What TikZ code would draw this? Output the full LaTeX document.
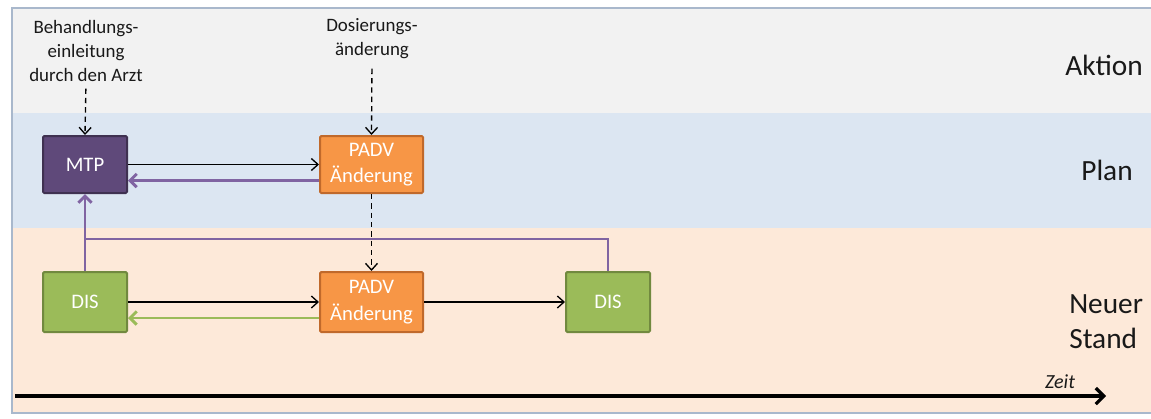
\documentclass[tikz,border=0pt]{standalone}
\usepackage{fontspec}
\setmainfont{Carlito}
\usetikzlibrary{arrows.meta}
\definecolor{aktbg}{HTML}{F2F2F2}
\definecolor{planbg}{HTML}{DCE6F2}
\definecolor{standbg}{HTML}{FDE9D9}
\definecolor{framec}{HTML}{A9B8CC}
\definecolor{mtpfill}{HTML}{5F497A}
\definecolor{mtpdraw}{HTML}{3F3151}
\definecolor{orfill}{HTML}{F79646}
\definecolor{ordraw}{HTML}{C0692B}
\definecolor{grfill}{HTML}{9BBB59}
\definecolor{grdraw}{HTML}{71893F}
\definecolor{purpl}{HTML}{8064A2}
\definecolor{greenl}{HTML}{9BBB59}
\tikzset{
  box/.style={draw, line width=1.5pt, rounded corners=1pt, text=white, align=center,
    font=\fontsize{15.5}{20}\selectfont, inner sep=0pt},
  mtpbox/.style={box, fill=mtpfill, draw=mtpdraw, minimum width=63pt, minimum height=42.75pt},
  padvt/.style={box, fill=orfill, draw=ordraw, minimum width=77.25pt, minimum height=42.75pt},
  padvb/.style={box, fill=orfill, draw=ordraw, minimum width=77.25pt, minimum height=45pt},
  disbox/.style={box, fill=grfill, draw=grdraw, minimum width=63pt, minimum height=45pt},
  lbl/.style={text=black!90, font=\fontsize{22}{26.4}\selectfont, align=left, inner sep=0pt},
  toplbl/.style={text=black!90, font=\fontsize{14.2}{18}\selectfont, align=center, inner sep=0pt},
  blk/.style={draw=black, line width=1pt, -{Straight Barb[length=5pt,width=9pt]}},
  purp/.style={draw=purpl, line width=2.2pt, -{Straight Barb[length=5pt,width=10pt]}},
  purpline/.style={draw=purpl, line width=2.2pt},
  grn/.style={draw=greenl, line width=2.2pt, -{Straight Barb[length=5pt,width=10pt]}},
  dsh/.style={draw=black, line width=1pt, dash pattern=on 4pt off 3pt, -{Straight Barb[length=5pt,width=9pt]}},
}
\begin{document}
\begin{tikzpicture}[x=0.75pt, y=-0.75pt]
\useasboundingbox (0,0) rectangle (1151,418);
% bands
\fill[aktbg] (12,8) rectangle (1151,113);
\fill[planbg] (12,113) rectangle (1151,228);
\fill[standbg] (12,228) rectangle (1151,413);
\draw[framec, line width=1.2pt] (1151,8) -- (12,8) -- (12,413) -- (1151,413);
% lane labels
\node[lbl] (akt) at (1104,65) {Aktion};
\node[lbl] (plan) at (1107,170) {Plan};
\node[lbl, anchor=west] (stand) at (1069,322) {Neuer\\Stand};
% top texts
\node[toplbl] (beh) at (86,51) {Behandlungs-\\einleitung\\durch den Arzt};
\node[toplbl] (dos) at (372,39) {Dosierungs-\\änderung};
% boxes
\node[mtpbox] (mtp) at (85,164.5) {MTP};
\node[padvt] (padvt) at (371.5,164.5) {PADV\\Änderung};
\node[disbox] (disl) at (85,302) {DIS};
\node[padvb] (padvb) at (371.5,302) {PADV\\Änderung};
\node[disbox] (disr) at (608,302) {DIS};
% dashed arrows
\draw[dsh, shorten <=5pt] (beh.south) -- (mtp.north);
\draw[dsh, shorten <=7pt] (dos.south) -- (padvt.north);
\draw[dsh] (padvt.south) -- (padvb.north);
% horizontal arrows
\draw[blk] (mtp.east) -- (padvt.west);
\draw[purp] ([yshift=-12pt]padvt.west) -- ([yshift=-12pt]mtp.east);
\draw[blk] (disl.east) -- (padvb.west);
\draw[grn] ([yshift=-12pt]padvb.west) -- ([yshift=-12pt]disl.east);
\draw[blk] (padvb.east) -- (disr.west);
% purple feedback
\coordinate (j) at (85,239);
\draw[purpline] (disr.north) |- (j);
\draw[purp] (disl.north) -- (mtp.south);
% time axis
\coordinate (t0) at (15,396);
\coordinate (t1) at (1106,396);
\draw[line width=2.4pt, -{Straight Barb[length=6pt,width=12pt]}] (t0) -- (t1);
\node[text=black!90, font=\itshape\fontsize{15}{18}\selectfont, inner sep=0pt] (zeit) at (1060,382) {Zeit};
\end{tikzpicture}
\end{document}
